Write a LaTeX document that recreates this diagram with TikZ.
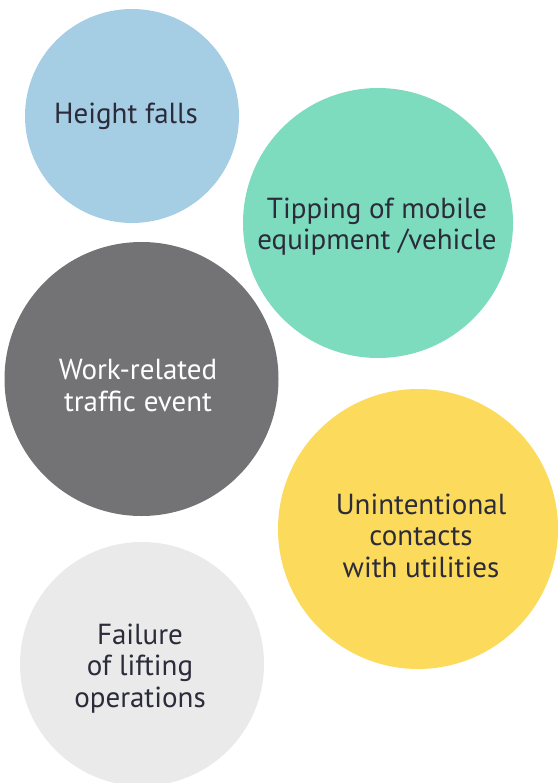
\documentclass[tikz,border=0pt]{standalone}
\usepackage{fontspec}
\setmainfont{PT Sans}
\definecolor{cblue}{HTML}{A5CDE4}
\definecolor{cgreen}{HTML}{7EDCBE}
\definecolor{cdark}{HTML}{737375}
\definecolor{cyellow}{HTML}{FCDB5C}
\definecolor{clight}{HTML}{EAEAEA}
\definecolor{ctext}{HTML}{2B2B3A}
\tikzset{
  bubble/.style={circle, inner sep=0pt, minimum size=#1},
  lbl/.style={align=center, text=ctext, inner sep=0pt, font=\fontsize{29}{31.5}\selectfont, anchor=base},
}
\begin{document}
\begin{tikzpicture}[x=1pt, y=-1pt]
\useasboundingbox (0,0) rectangle (557,783);
\node[bubble=214pt, fill=cblue]   (c1) at (132,116) {};
\node[bubble=270pt, fill=cgreen]  (c2) at (378,223) {};
\node[bubble=274pt, fill=cdark]   (c3) at (141.5,379) {};
\node[bubble=280pt, fill=cyellow] (c4) at (418,529) {};
\node[bubble=244pt, fill=clight]  (c5) at (142,664) {};
\node[lbl] (t1) at (126,124) {Height falls};
\node[lbl] (t2) at (377,250) {Tipping of mobile\\equipment /vehicle};
\node[lbl, text=white] (t3) at (138,411) {Work-related\\traffic event};
\node[lbl] (t4) at (421,577) {Unintentional\\contacts\\with utilities};
\node[lbl] (t5) at (140,707) {Failure\\of lifting\\operations};
\end{tikzpicture}
\end{document}
